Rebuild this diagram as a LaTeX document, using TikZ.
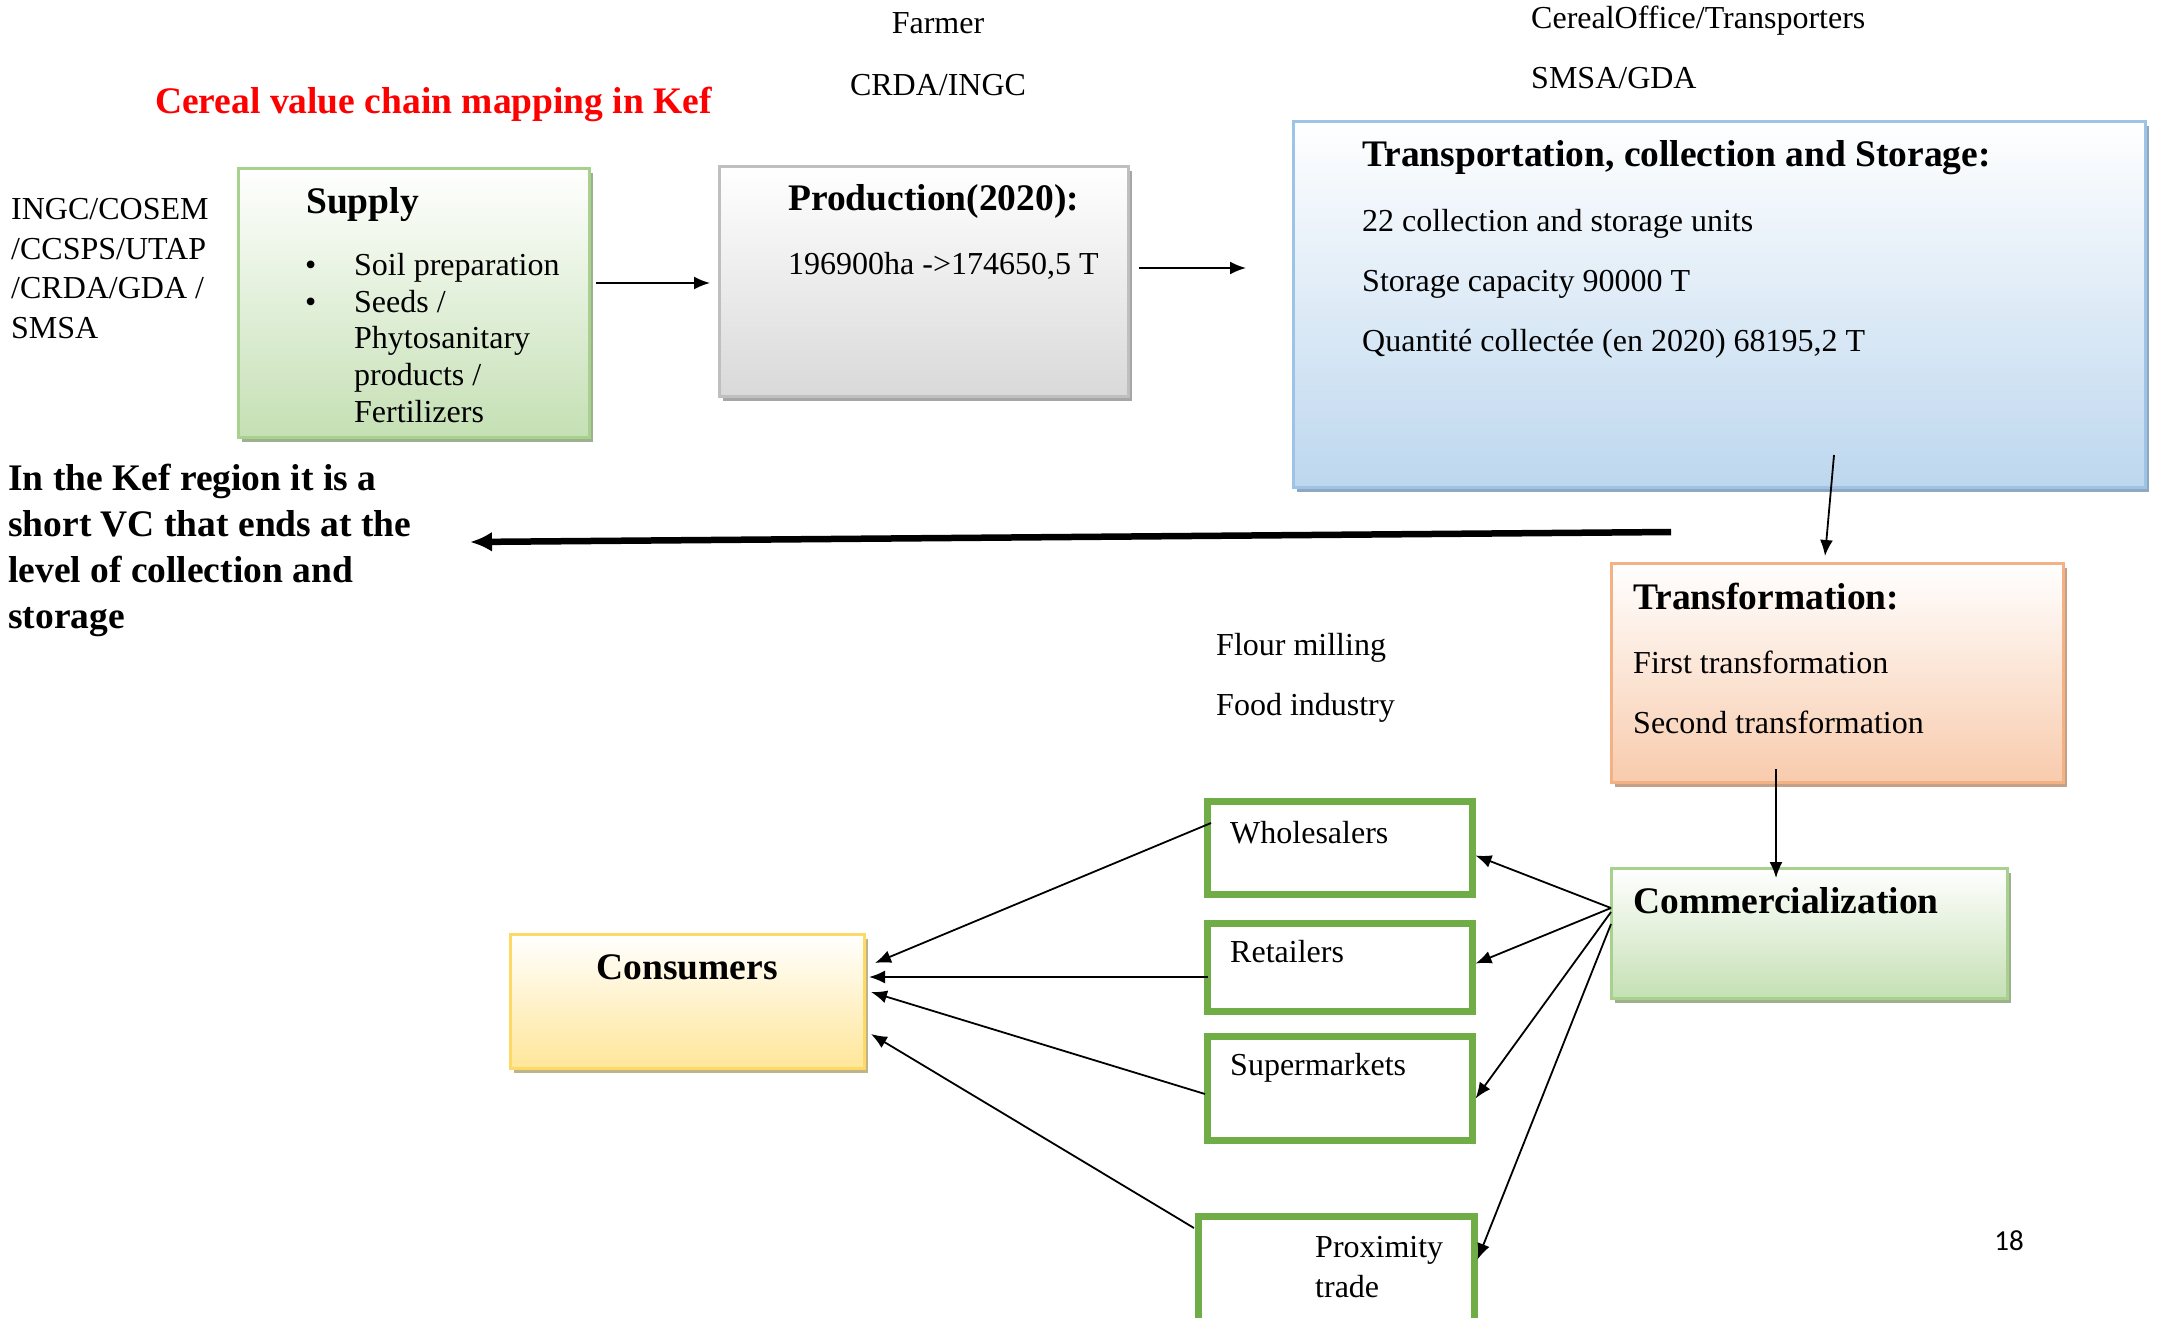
\documentclass[tikz,border=0pt]{standalone}
\usepackage{fontspec}
\setmainfont{Liberation Serif}
\newfontfamily\pagenumfont{Carlito}
\usetikzlibrary{arrows.meta,shadows,calc}

% stage colours: fill at the bottom of the gradient, border, shadow
\definecolor{supgreen}{HTML}{C5E0B4}
\definecolor{supgreenline}{HTML}{A9D18E}
\definecolor{supgreenshadow}{HTML}{9DB08F}
\definecolor{prodgray}{HTML}{D9D9D9}
\definecolor{prodline}{HTML}{BFBFBF}
\definecolor{prodshadow}{HTML}{A6A6A6}
\definecolor{storeblue}{HTML}{BDD7EE}
\definecolor{storeline}{HTML}{9DC3E6}
\definecolor{storeshadow}{HTML}{8FA8C0}
\definecolor{trforange}{HTML}{F8CBAD}
\definecolor{trfline}{HTML}{F4B183}
\definecolor{trfshadow}{HTML}{C4A089}
\definecolor{consyellow}{HTML}{FFE699}
\definecolor{consline}{HTML}{FFD966}
\definecolor{consshadow}{HTML}{BFB38A}
\definecolor{outletgreen}{HTML}{70AD47}
\definecolor{titlered}{HTML}{FF0000}

\tikzset{
  stagebox/.style n args={3}{draw=#2, line width=3pt, top color=white, bottom color=#1,
    general shadow={fill=#3, shadow xshift=4pt, shadow yshift=-5pt},
    anchor=north west, inner sep=0pt, outer sep=0pt},
  outletbox/.style={draw=outletgreen, line width=7pt, fill=white,
    anchor=north west, inner sep=0pt, outer sep=0pt, minimum width=265pt},
  txt/.style={anchor=base west, inner sep=0pt, font=\fontsize{32}{38}\selectfont},
  btxt/.style={anchor=base west, inner sep=0pt, font=\fontsize{37.5}{44}\selectfont\bfseries},
  flow/.style={line width=1.8pt, -{Latex[length=16pt,width=13pt]}},
  bigflow/.style={line width=6.5pt, -{Latex[length=22pt,width=20pt]}},
}

\begin{document}
\begin{tikzpicture}[x=1pt,y=-1pt]
\useasboundingbox (0,0) rectangle (2157,1317);

% ---- stage boxes ----
\node[stagebox={supgreen}{supgreenline}{supgreenshadow}, minimum width=351pt, minimum height=269pt] (sup) at (238,168) {};
\node[stagebox={prodgray}{prodline}{prodshadow}, minimum width=409pt, minimum height=230pt] (prod) at (719,166) {};
\node[stagebox={storeblue}{storeline}{storeshadow}, minimum width=852pt, minimum height=366pt] (store) at (1293,121) {};
\node[stagebox={trforange}{trfline}{trfshadow}, minimum width=452pt, minimum height=219pt] (trf) at (1611,563) {};
\node[stagebox={supgreen}{supgreenline}{supgreenshadow}, minimum width=396pt, minimum height=130pt] (comm) at (1611,868) {};
\node[stagebox={consyellow}{consline}{consshadow}, minimum width=354pt, minimum height=134pt] (cons) at (510,934) {};

% ---- market outlets ----
\node[outletbox, minimum height=93pt] (whole) at (1207.5,801.5) {};
\node[outletbox, minimum height=88pt] (retail) at (1207.5,923.5) {};
\node[outletbox, minimum height=104pt] (superm) at (1207.5,1036.5) {};
\node[outletbox, minimum width=276pt, minimum height=130pt] (prox) at (1198.5,1216.5) {};

% ---- texts above and beside the chain ----
\node[btxt, text=titlered] (title) at (155,113) {Cereal value chain mapping in Kef};
\node[txt, anchor=base] (farmer) at (938,33) {Farmer};
\node[txt, anchor=base] (crda) at (938,95) {CRDA/INGC};
\node[txt] (office) at (1531,28) {CerealOffice/Transporters};
\node[txt] (smsa) at (1531,88) {SMSA/GDA};

\node[txt] (act1) at (11,219) {INGC/COSEM};
\node[txt] (act2) at (11,259) {/CCSPS/UTAP};
\node[txt] (act3) at (11,298) {/CRDA/GDA /};
\node[txt] (act4) at (11,338) {SMSA};

% ---- supply ----
\node[btxt] (supT) at (306,213) {Supply};
\node[txt] (bul1) at (305,275) {•};
\node[txt] (bul2) at (305,312) {•};
\node[txt] (sup1) at (354,275) {Soil preparation};
\node[txt] (sup2) at (354,312) {Seeds /};
\node[txt] (sup3) at (354,348) {Phytosanitary};
\node[txt] (sup4) at (354,385) {products /};
\node[txt] (sup5) at (354,422) {Fertilizers};

% ---- production ----
\node[btxt] (prodT) at (788,210) {Production(2020):};
\node[txt] (prod1) at (788,274) {196900ha ->174650,5 T};

% ---- transportation, collection and storage ----
\node[btxt] (storeT) at (1362,166) {Transportation, collection and Storage:};
\node[txt] (store1) at (1362,231) {22 collection and storage units};
\node[txt] (store2) at (1362,291) {Storage capacity 90000 T};
\node[txt] (store3) at (1362,351) {Quantité collectée (en 2020) 68195,2 T};

% ---- note on the short chain ----
\node[btxt] (note1) at (8,490) {In the Kef region it is a};
\node[btxt] (note2) at (8,536) {short VC that ends at the};
\node[btxt] (note3) at (8,582) {level of collection and};
\node[btxt] (note4) at (8,628) {storage};

% ---- transformation ----
\node[btxt] (trfT) at (1633,609) {Transformation:};
\node[txt] (trf1) at (1633,673) {First transformation};
\node[txt] (trf2) at (1633,733) {Second transformation};
\node[txt] (mill) at (1216,655) {Flour milling};
\node[txt] (food) at (1216,715) {Food industry};

% ---- commercialization and consumers ----
\node[btxt] (commT) at (1633,913) {Commercialization};
\node[btxt, anchor=base] (consT) at (687,979) {Consumers};
\node[txt] (wholeT) at (1230,843) {Wholesalers};
\node[txt] (retailT) at (1230,962) {Retailers};
\node[txt] (supermT) at (1230,1075) {Supermarkets};
\node[txt] (proxT1) at (1315,1257) {Proximity};
\node[txt] (proxT2) at (1315,1297) {trade};

\node[anchor=base, inner sep=0pt, font=\pagenumfont\fontsize{29}{34}\selectfont] (pagenum) at (2009,1250) {18};

% ---- connectors along the chain ----
\draw[flow] ($(sup.north east)+(7,115)$) -- ($(prod.north west)+(-9,117)$);
\draw[flow] ($(prod.north east)+(11,102)$) -- ($(store.north west)+(-47,147)$);
\draw[flow] ($(store.south west)+(541,-32)$) -- ($(trf.north west)+(214,-7)$);
\draw[flow] ($(trf.south west)+(165,-13)$) -- ($(comm.north west)+(165,10)$);

\coordinate (vcR) at (1671,532);
\coordinate (vcL) at (470,542);
\draw[bigflow] (vcR) -- (vcL);

% commercialization to the outlets
\draw[flow] ($(comm.north west)+(0,40)$) -- ($(whole.north east)+(3,54)$);
\draw[flow] ($(comm.north west)+(0,40)$) -- ($(retail.north east)+(3,40)$);
\draw[flow] ($(comm.north west)+(0,44)$) -- ($(superm.north east)+(3,62)$);
\draw[flow] ($(comm.north west)+(0,56)$) -- ($(prox.north east)+(3,43)$);

% outlets to consumers
\draw[flow] ($(whole.north west)+(3.5,21.5)$) -- ($(cons.north east)+(11,29)$);
\draw[flow] ($(retail.north west)+(0.5,53.5)$) -- ($(cons.north east)+(5,43)$);
\draw[flow] ($(superm.north west)+(-2.5,57.5)$) -- ($(cons.north east)+(7,58)$);
\draw[flow] ($(prox.north west)+(-4.5,11.5)$) -- ($(cons.north east)+(7,100)$);
\end{tikzpicture}
\end{document}
